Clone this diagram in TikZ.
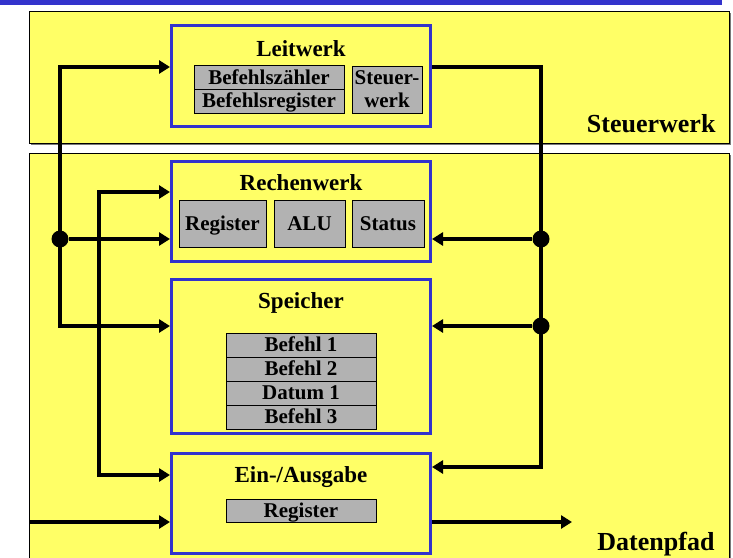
\documentclass[tikz,border=0pt]{standalone}
\usepackage{fontspec}
\setmainfont{Liberation Serif}
\usepackage{tikz}
\usetikzlibrary{arrows.meta}
\definecolor{blau}{HTML}{3333CC}
\definecolor{gelb}{HTML}{FFFF66}
\definecolor{grau}{HTML}{B2B2B2}
\definecolor{schatten}{HTML}{7A7A7A}

\begin{document}
\begin{tikzpicture}[
  x=1pt, y=-1pt,
  rahmen/.style={draw=black, line width=1pt, fill=gelb},
  kasten/.style={draw=blau, fill=gelb, line width=3pt, minimum width=259pt, inner sep=0pt},
  zelle/.style={draw=black, line width=1pt, fill=grau, inner sep=0pt, align=center, font=\bfseries\fontsize{21}{23}\selectfont},
  zeile/.style={zelle, text height=14pt, text depth=1pt},
  titel/.style={anchor=base, font=\bfseries\fontsize{23}{25}\selectfont},
  bereich/.style={anchor=base east, font=\bfseries\fontsize{26}{28}\selectfont},
  pfeil/.style={-{Triangle[length=11pt,width=13pt]}, line width=3.5pt},
  punkt/.style={circle, fill=black, minimum size=17pt, inner sep=0pt}
]
  \useasboundingbox (0,0) rectangle (733,557);
  \fill[blau] (0,0) rectangle (722,5);
  % Steuerwerk und Datenpfad
  \fill[schatten] (31,13) rectangle (731,145);
  \draw[rahmen] (29,11) rectangle (729,143);
  \fill[schatten] (31,155) rectangle (731,562);
  \draw[rahmen] (29,153) rectangle (729,560);
  \node[bereich] (lsteuer) at (719,132) {Steuerwerk};
  \node[bereich] (ldaten) at (718,550) {Datenpfad};

  \node[kasten, minimum height=101pt] (leit) at (301,76) {};
  \node[kasten, minimum height=100pt] (rech) at (301,211.5) {};
  \node[kasten, minimum height=154pt] (speich) at (301,356.5) {};
  \node[kasten, minimum height=100pt] (eaus) at (301,503.5) {};

  \node[titel] (tleit) at (301,56) {Leitwerk};
  \node[titel] (trech) at (301,190) {Rechenwerk};
  \node[titel] (tspeich) at (301,308) {Speicher};
  \node[titel] (teaus) at (301,482) {Ein-/Ausgabe};

  \node[zeile, minimum width=150pt, minimum height=23.6pt] (bz) at (269,77.5) {Befehlszähler};
  \node[zeile, minimum width=150pt, minimum height=24pt] (br) at (269,101.3) {Befehlsregister};
  \node[zelle, minimum width=70pt, minimum height=47pt] (sw) at (387,89.5) {Steuer-\\werk};

  \node[zeile, minimum width=87pt, minimum height=47pt] (reg) at (222.5,223.5) {Register};
  \node[zeile, minimum width=71pt, minimum height=47pt] (alu) at (309.5,223.5) {ALU};
  \node[zeile, minimum width=72pt, minimum height=47pt] (stat) at (388,223.5) {Status};

  \node[zeile, minimum width=150pt, minimum height=24pt] (m1) at (301,345) {Befehl 1};
  \node[zeile, minimum width=150pt, minimum height=24pt] (m2) at (301,369) {Befehl 2};
  \node[zeile, minimum width=150pt, minimum height=24pt] (m3) at (301,393) {Datum 1};
  \node[zeile, minimum width=150pt, minimum height=24pt] (m4) at (301,417) {Befehl 3};

  \node[zeile, minimum width=150pt, minimum height=23pt] (eareg) at (301,510.5) {Register};

  % Leitungen
  \coordinate (l1) at (60,67);
  \coordinate (l2) at (60,326);
  \coordinate (l3) at (99,192);
  \coordinate (l4) at (99,475);
  \coordinate (ein) at (29,522);
  \coordinate (aus) at (572,522);
  \coordinate (r1) at (541,67);
  \coordinate (r2) at (541,467);
  \node[punkt] (pl) at (60,239) {};
  \node[punkt] (pr1) at (541,239) {};
  \node[punkt] (pr2) at (541,326) {};

  \draw[pfeil] (l2) -- (l1) -- (l1 -| leit.west);
  \draw[pfeil] (l1) -- (l2) -- (l2 -| speich.west);
  \draw[pfeil] (pl) -- (pl -| rech.west);
  \draw[pfeil] (l4) -- (l3) -- (l3 -| rech.west);
  \draw[pfeil] (l3) -- (l4) -- (l4 -| eaus.west);
  \draw[pfeil] (ein) -- (ein -| eaus.west);
  \draw[pfeil] (eaus.east |- aus) -- (aus);
  \draw[pfeil] (leit.east |- r1) -- (r1) -- (r2) -- (r2 -| eaus.east);
  \draw[pfeil] (pr1) -- (pr1 -| rech.east);
  \draw[pfeil] (pr2) -- (pr2 -| speich.east);
\end{tikzpicture}
\end{document}
